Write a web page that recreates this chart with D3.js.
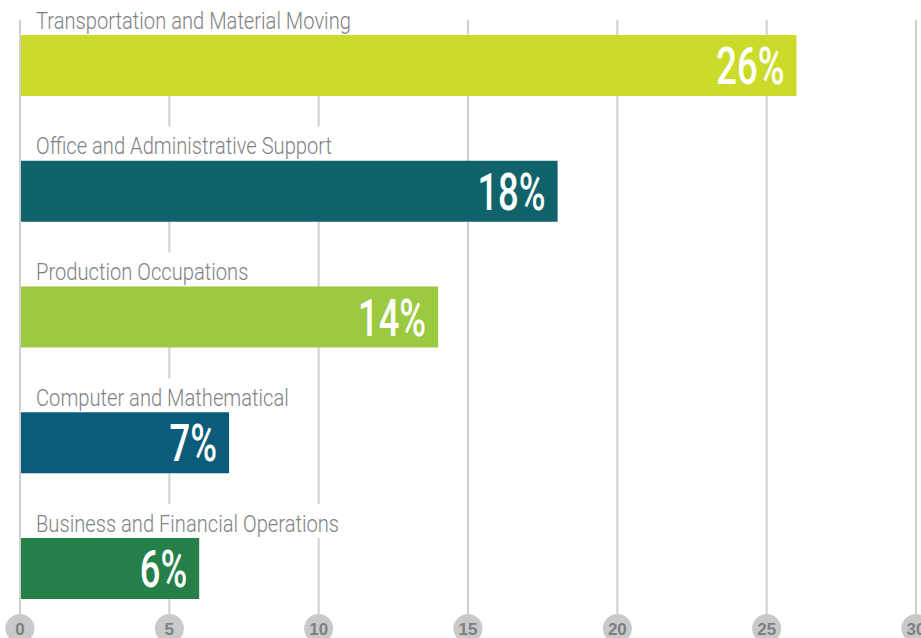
<!DOCTYPE html>
<html>
<head>
<meta charset="utf-8">
<script src="https://cdn.jsdelivr.net/npm/d3@7"></script>
<style>
  html, body { margin: 0; padding: 0; background: #fff; overflow: hidden; }
  .grid { stroke: #d0d0d0; stroke-width: 2; }
  .cat { font-family: Roboto, "Liberation Sans", sans-serif; font-weight: 300; font-size: 24px; fill: #808285; }
  .val { font-family: Roboto, "DejaVu Sans Condensed", sans-serif; font-weight: 500; font-size: 52px; fill: #fff; }
  .tick-text { font-family: "Liberation Sans", Arial, sans-serif; font-weight: bold; font-size: 17px; fill: #7f7f7f; }
</style>
</head>
<body>
<script>
const categories = [
    "Transportation and Material Moving",
    "Office and Administrative Support",
    "Production Occupations",
    "Computer and Mathematical",
    "Business and Financial Operations"
];
const values = [26, 18, 14, 7, 6];
const colors = ["#cbdb2a", "#10636a", "#9bc93f", "#0b5c7a", "#247f48"];
const tickValues = [0, 5, 10, 15, 20, 25, 30];

const WIDTH = 921;
const HEIGHT = 638;
const CAT_SCALE = 0.84;
const VAL_SCALE = 0.7;

var translate = function(x, y) {
    return 'translate(' + x + ',' + y + ')';
};

var xScale = d3.scaleLinear()
    .domain([0, 30])
    .range([20, 916]);

var yScale = d3.scaleBand()
    .domain(categories)
    .range([35, 599])
    .paddingInner(0.515)
    .paddingOuter(0);

var data = categories.map(function(c, i) {
    return {name: c, value: values[i], color: colors[i]};
});

var svg = d3.select('body').append('svg')
    .attr('width', WIDTH)
    .attr('height', HEIGHT);

// gridlines
svg.append('g').selectAll('line')
    .data(tickValues)
    .enter()
    .append('line')
    .attr('class', 'grid')
    .attr('x1', function(d) { return xScale(d); })
    .attr('x2', function(d) { return xScale(d); })
    .attr('y1', 20)
    .attr('y2', 614);

var rows = svg.append('g').selectAll('g')
    .data(data)
    .enter()
    .append('g');

// white backing behind the category labels, cuts the gridlines
var bgs = rows.append('rect')
    .attr('fill', '#fff')
    .attr('x', xScale(0) + 1)
    .attr('y', function(d) { return yScale(d.name) - 34; })
    .attr('height', 34);

var cats = rows.append('text')
    .attr('class', 'cat')
    .attr('transform', function(d) {
        return translate(36, yScale(d.name) - 6.5) + ' scale(' + CAT_SCALE + ',1)';
    })
    .text(function(d) { return d.name; });

cats.each(function(d) {
    d.labelWidth = this.getComputedTextLength() * CAT_SCALE;
});
bgs.attr('width', function(d) { return 36 + d.labelWidth + 6 - xScale(0); });

rows.append('rect')
    .attr('x', xScale(0) + 1)
    .attr('y', function(d) { return yScale(d.name); })
    .attr('width', function(d) { return xScale(d.value) - xScale(0) - 1; })
    .attr('height', yScale.bandwidth())
    .attr('fill', function(d) { return d.color; });

rows.append('text')
    .attr('class', 'val')
    .attr('text-anchor', 'end')
    .attr('transform', function(d) {
        return translate(xScale(d.value) - 12, yScale(d.name) + yScale.bandwidth() / 2 + 18.5) +
            ' scale(' + VAL_SCALE + ',1)';
    })
    .text(function(d) { return d.value + '%'; });

// tick bubbles along the bottom
var ticks = svg.append('g').selectAll('g')
    .data(tickValues)
    .enter()
    .append('g')
    .attr('transform', function(d) { return translate(xScale(d), 628.5); });

ticks.append('circle')
    .attr('r', 14.5)
    .attr('fill', '#c8c9cb');

ticks.append('text')
    .attr('class', 'tick-text')
    .attr('text-anchor', 'middle')
    .attr('y', 6)
    .text(function(d) { return d; });
</script>
</body>
</html>
